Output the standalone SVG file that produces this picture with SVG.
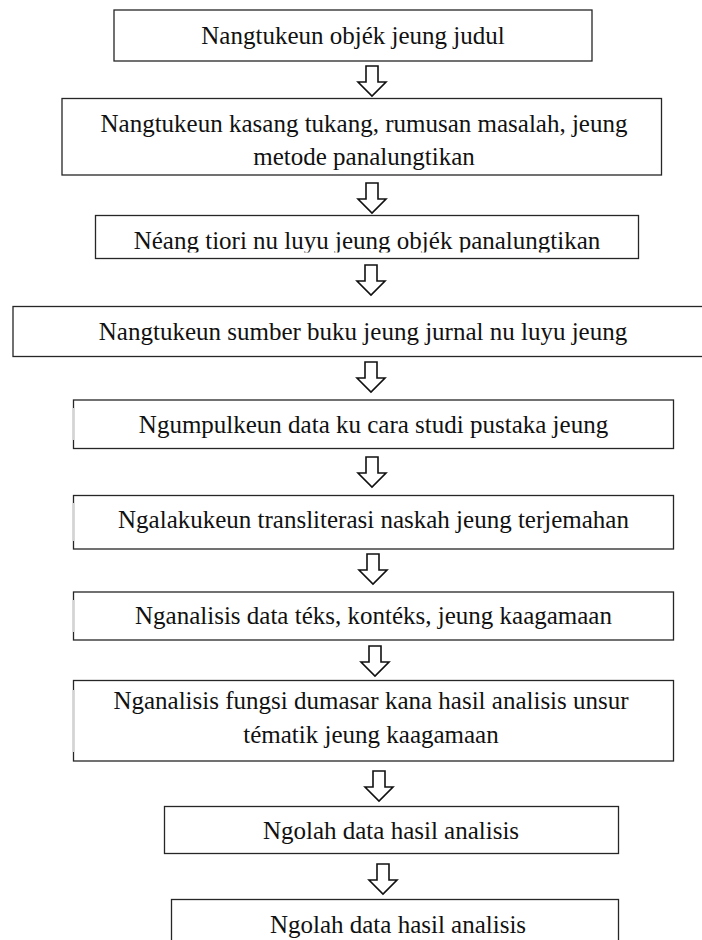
<svg xmlns="http://www.w3.org/2000/svg" width="702" height="940" viewBox="0 0 702 940">
<defs>
  <path id="blockArrow" d="M-6,0 H6 V16 H14 L0,30 L-14,16 H-6 Z"/>
  <clipPath id="clip3"><rect x="96" y="216" width="542" height="36.5"/></clipPath>
</defs>
<rect x="0" y="0" width="702" height="940" fill="#ffffff"/>

<g id="connectors" fill="#ffffff" stroke="#111111" stroke-width="1.6">
  <use href="#blockArrow" x="372" y="66"/>
  <use href="#blockArrow" x="372" y="183"/>
  <use href="#blockArrow" x="371" y="265"/>
  <use href="#blockArrow" x="371" y="362"/>
  <use href="#blockArrow" x="372" y="457"/>
  <use href="#blockArrow" x="373" y="554"/>
  <use href="#blockArrow" x="375" y="646"/>
  <use href="#blockArrow" x="379" y="771"/>
  <use href="#blockArrow" x="383" y="864"/>
</g>

<g id="nodes" font-family="Liberation Serif" font-size="25" text-anchor="middle">
<g id="node1">
  <rect x="114" y="10" width="478" height="51" fill="#ffffff" stroke="#262626" stroke-width="1.3"/>
  <text x="353" y="44" fill="#111111">Nangtukeun objék jeung judul</text>
</g>

<g id="node2">
  <rect x="62" y="98.5" width="599.5" height="76.5" fill="#ffffff" stroke="#262626" stroke-width="1.3"/>
  <text x="364" y="132" fill="#111111">Nangtukeun kasang tukang, rumusan masalah, jeung</text>
  <text x="364" y="165" fill="#111111">metode panalungtikan</text>
</g>

<g id="node3">
  <rect x="95.5" y="215.5" width="543" height="43" fill="#ffffff" stroke="#262626" stroke-width="1.3"/>
  <text x="367" y="249" fill="#111111" clip-path="url(#clip3)">Néang tiori nu luyu jeung objék panalungtikan</text>
</g>

<g id="node4">
  <rect x="13" y="306.5" width="720" height="50" fill="#ffffff" stroke="#262626" stroke-width="1.3"/>
  <text x="363" y="340" fill="#111111">Nangtukeun sumber buku jeung jurnal nu luyu jeung</text>
</g>

<g id="node5">
  <rect x="73.5" y="400" width="600" height="48.5" fill="#ffffff" stroke="#262626" stroke-width="1.3"/>
  <line x1="73.5" y1="408" x2="73.5" y2="440" stroke="#d4d4d4" stroke-width="2"/>
  <text x="373.5" y="433" fill="#111111">Ngumpulkeun data ku cara studi pustaka jeung</text>
</g>

<g id="node6">
  <rect x="73.5" y="495.5" width="600" height="53.5" fill="#ffffff" stroke="#262626" stroke-width="1.3"/>
  <line x1="73.5" y1="503" x2="73.5" y2="541" stroke="#d4d4d4" stroke-width="2"/>
  <text x="373.5" y="528" fill="#111111">Ngalakukeun transliterasi naskah jeung terjemahan</text>
</g>

<g id="node7">
  <rect x="73.5" y="592" width="600" height="48" fill="#ffffff" stroke="#262626" stroke-width="1.3"/>
  <line x1="73.5" y1="600" x2="73.5" y2="632" stroke="#d4d4d4" stroke-width="2"/>
  <text x="373.5" y="624" fill="#111111">Nganalisis data téks, kontéks, jeung kaagamaan</text>
</g>

<g id="node8">
  <rect x="73.5" y="680.5" width="600" height="80.5" fill="#ffffff" stroke="#262626" stroke-width="1.3"/>
  <line x1="73.5" y1="690" x2="73.5" y2="752" stroke="#d4d4d4" stroke-width="2"/>
  <text x="371" y="709" fill="#111111">Nganalisis fungsi dumasar kana hasil analisis unsur</text>
  <text x="371" y="743" fill="#111111">tématik jeung kaagamaan</text>
</g>

<g id="node9">
  <rect x="164.5" y="806.5" width="454" height="47" fill="#ffffff" stroke="#262626" stroke-width="1.3"/>
  <text x="391" y="839" fill="#111111">Ngolah data hasil analisis</text>
</g>

<g id="node10">
  <rect x="171.5" y="899.5" width="447" height="60" fill="#ffffff" stroke="#262626" stroke-width="1.3"/>
  <text x="398" y="933" fill="#111111">Ngolah data hasil analisis</text>
</g>
</g>
</svg>
